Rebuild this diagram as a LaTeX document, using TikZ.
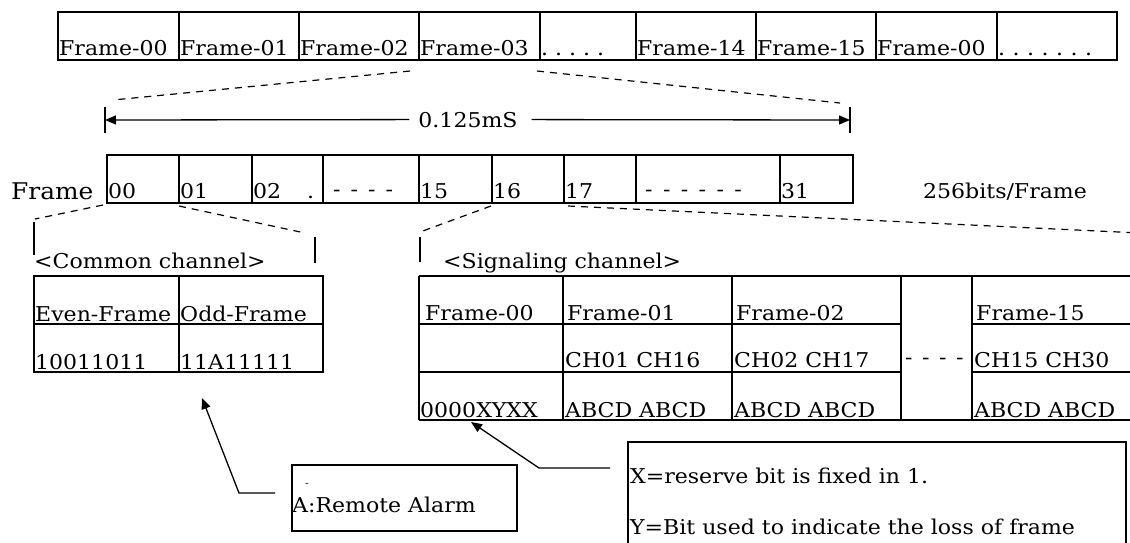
\documentclass[tikz,border=0pt]{standalone}
\usepackage{fontspec}
\setmainfont[FakeStretch=1.08]{DejaVu Serif}
\usetikzlibrary{arrows.meta}
\newcommand{\cf}{\fontsize{20.4}{23}\selectfont}
\newcommand{\bigf}{\fontsize{23}{27}\selectfont}
\newcommand{\tinyf}{\fontsize{10}{11}\selectfont}
\begin{document}
\begin{tikzpicture}[x=1pt,y=-1pt,
  box/.style={line width=1.6pt},
  txt/.style={anchor=base west, inner sep=0pt, font=\cf},
  dsh/.style={line width=1.2pt, dash pattern=on 7pt off 6pt},
  lead/.style={line width=1.3pt},
  tipa/.style={-{Triangle[length=11pt,width=9pt]}}]
\useasboundingbox (0,0) rectangle (1130,542);
\clip (0,0) rectangle (1130,542);
\fill[white] (0,0) rectangle (1130,542);

% ---------- top row of frames ----------
\draw[box] (58,12) rectangle (1117,60);
\foreach \x in {179,299,419,540,636,756,876,997} \draw[box] (\x,12) -- (\x,60);
\node[txt] (tf0) at (59,55) {Frame-00};
\node[txt] (tf1) at (180,55) {Frame-01};
\node[txt] (tf2) at (300,55) {Frame-02};
\node[txt] (tf3) at (420,55) {Frame-03};
\node[txt] (tfd) at (541,55) {.\hskip7pt.\hskip7pt.\hskip7pt.\hskip7pt.};
\node[txt] (tf14) at (637,55) {Frame-14};
\node[txt] (tf15) at (757,55) {Frame-15};
\node[txt] (tf00) at (877,55) {Frame-00};
\node[txt] (tfe) at (998,55) {.\hskip7.5pt.\hskip7.5pt.\hskip7.5pt.\hskip7.5pt.\hskip7.5pt.\hskip7.5pt.};

% expansion lines from Frame-03
\coordinate (f3l) at (410,71);
\coordinate (f3r) at (537,71);
\coordinate (dl) at (113,100);
\coordinate (dr) at (840,103);
\draw[dsh] (f3l) -- (dl);
\draw[dsh] (f3r) -- (dr);

% ---------- 0.125mS dimension ----------
\coordinate (barL) at (105,120);
\coordinate (barR) at (850,120);
\draw[box] (105,107) -- (105,133);
\draw[box] (850,107) -- (850,133);
\node[font=\cf, inner xsep=9pt, inner ysep=0pt, anchor=base] (dim) at (468,127) {0.125mS};
\draw[lead,tipa] (dim.west) -- (barL);
\draw[lead,tipa] ([xshift=5pt]dim.east) -- (barR);

% ---------- frame of 32 time slots ----------
\node[anchor=base west, inner sep=0pt, font=\bigf] (flabel) at (11,199) {Frame};
\draw[box] (107,155) rectangle (853,203);
\foreach \x in {179,252,323,419,492,564,636,780} \draw[box] (\x,155) -- (\x,203);
\node[txt] (s00) at (108,198) {00};
\node[txt] (s01) at (180,198) {01};
\node[txt] (s02) at (253,198) {02\hskip26pt.};
\node[txt] (sd1) at (333,196) {-\hskip10pt-\hskip10pt-\hskip10pt-};
\node[txt] (s15) at (420,198) {15};
\node[txt] (s16) at (493,198) {16};
\node[txt] (s17) at (565,198) {17};
\node[txt] (sd2) at (645,196) {-\hskip10.4pt-\hskip10.4pt-\hskip10.4pt-\hskip10.4pt-\hskip10.4pt-};
\node[txt] (s31) at (781,198) {31};
\node[txt] (bits) at (923,198) {256bits/Frame};

% ---------- expansion of slot 00 ----------
\coordinate (c0a) at (103,205);
\coordinate (c0b) at (35,219);
\coordinate (c1a) at (179,206);
\coordinate (c1b) at (305,233);
\draw[dsh] (c0a) -- (c0b);
\draw[dsh] (c1a) -- (c1b);
\draw[lead] (34,222) -- (34,255);
\draw[lead] (315,237) -- (315,263);

% ---------- expansion of slot 16 ----------
\coordinate (c16a) at (491,206);
\coordinate (c16b) at (420,232);
\coordinate (c17a) at (568,206);
\coordinate (c17b) at (1140,233);
\draw[dsh] (c16a) -- (c16b);
\draw[dsh] (c17a) -- (c17b);
\draw[lead] (420,237) -- (420,262);

% ---------- common channel table ----------
\node[txt] (cclabel) at (34,268) {<Common channel>};
\draw[box] (34,276) rectangle (323,372);
\draw[box] (179,276) -- (179,372);
\draw[box] (34,324) -- (323,324);
\node[txt] (even) at (35,321) {Even-Frame};
\node[txt] (odd) at (180,321) {Odd-Frame};
\node[txt] (evenv) at (35,369) {10011011};
\node[txt] (oddv) at (180,369) {11A11111};

% ---------- signaling channel table ----------
\node[txt] (sclabel) at (443,268) {<Signaling channel>};
\draw[box] (419,276) -- (1140,276);
\draw[box] (419,420) -- (1140,420);
\draw[box] (419,324) -- (901,324) (972,324) -- (1140,324);
\draw[box] (419,372) -- (901,372) (972,372) -- (1140,372);
\foreach \x in {419,563,732,901,972} \draw[box] (\x,276) -- (\x,420);
\node[txt] (g0) at (425,320) {Frame-00};
\node[txt] (g1) at (567,320) {Frame-01};
\node[txt] (g2) at (736,320) {Frame-02};
\node[txt] (g15) at (976,320) {Frame-15};
\node[txt] (ch1) at (565,367) {CH01 CH16};
\node[txt] (ch2) at (734,367) {CH02 CH17};
\node[txt] (chd) at (905,364) {-\hskip9.5pt-\hskip9.5pt-\hskip9.5pt-};
\node[txt] (ch15) at (974,367) {CH15 CH30};
\node[txt] (x0) at (420,417) {0000XYXX};
\node[txt] (ab1) at (565,417) {ABCD ABCD};
\node[txt] (ab2) at (734,417) {ABCD ABCD};
\node[txt] (ab15) at (974,417) {ABCD ABCD};

% ---------- callout: remote alarm ----------
\node[draw, line width=1.6pt, minimum width=225pt, minimum height=66pt, inner sep=0pt, anchor=north west] (alarm) at (291,464) {};
\node[anchor=base west, inner sep=0pt, font=\tinyf] (adot) at (305,486) {-};
\node[txt] (atext) at (292,512) {A:Remote Alarm};
\coordinate (aTip) at (202,398);
\coordinate (aBend) at (239,493);
\coordinate (aEnd) at (275,493);
\draw[lead,tipa] (aEnd) -- (aBend) -- (aTip);

% ---------- callout: X / Y bits ----------
\node[draw, line width=1.6pt, minimum width=498pt, minimum height=130pt, inner sep=0pt, anchor=north west] (xybox) at (627,441) {};
\node[txt] (xline) at (630,483) {X=reserve bit is fixed in 1.};
\node[txt] (yline) at (630,534) {Y=Bit used to indicate the loss of frame};
\coordinate (xTip) at (471,422);
\coordinate (xBend) at (539,468);
\coordinate (xEnd) at (610,468);
\draw[lead,tipa] (xEnd) -- (xBend) -- (xTip);
\end{tikzpicture}
\end{document}
